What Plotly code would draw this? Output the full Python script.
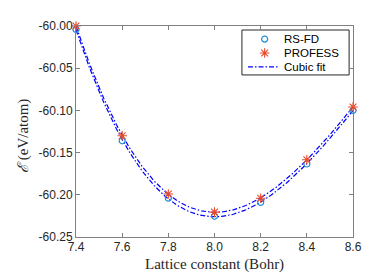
import numpy as np
import plotly.graph_objects as go

lattice = [7.4, 7.6, 7.8, 8.0, 8.2, 8.4, 8.6]
rsfd = [-60.004, -60.136, -60.204, -60.2255, -60.209, -60.1635, -60.100]
profess = [-60.000, -60.130, -60.199, -60.2205, -60.204, -60.1585, -60.096]
xticks = [7.4, 7.6, 7.8, 8.0, 8.2, 8.4, 8.6]
yticks = [-60.25, -60.20, -60.15, -60.10, -60.05, -60.00]
legend_names = ["RS-FD", "PROFESS", "Cubic fit"]

BLUE_LINE = "#0000FF"
C_RS = "#1f8fd8"
C_PR = "#E8482A"
DASH = "5px,2px,1.5px,2px"

xf = np.linspace(7.4, 8.6, 200)
fit_rs = np.polyval(np.polyfit(lattice, rsfd, 3), xf)
fit_pr = np.polyval(np.polyfit(lattice, profess, 3), xf)

fig = go.Figure()
fig.add_trace(go.Scatter(x=xf, y=fit_rs, mode="lines", name="Cubic fit",
                         line=dict(color=BLUE_LINE, width=1.2, dash=DASH), showlegend=False))
fig.add_trace(go.Scatter(x=xf, y=fit_pr, mode="lines", name="Cubic fit",
                         line=dict(color=BLUE_LINE, width=1.2, dash=DASH), showlegend=False))
fig.add_trace(go.Scatter(x=lattice, y=rsfd, mode="markers", name="RS-FD", cliponaxis=False, showlegend=False,
                         marker=dict(symbol="circle-open", size=6, color=C_RS, line=dict(width=1.2))))
fig.add_trace(go.Scatter(x=lattice, y=profess, mode="markers", name="PROFESS", cliponaxis=False, showlegend=False,
                         marker=dict(symbol="asterisk-open", size=8, color=C_PR, line=dict(width=1.1))))

# manual compact legend (overlay axes in [0,1] matching the plot area)
lx0, lx1, ly0, ly1 = 0.599, 0.986, 0.768, 0.981
rows = [0.938, 0.872, 0.806]
mx = 0.681
fig.add_shape(type="rect", xref="paper", yref="paper", x0=lx0, x1=lx1, y0=ly0, y1=ly1,
              line=dict(color="#262626", width=1), fillcolor="white", layer="below")
fig.add_trace(go.Scatter(x=[mx], y=[rows[0]], xaxis="x2", yaxis="y2", mode="markers", showlegend=False,
                         marker=dict(symbol="circle-open", size=6, color=C_RS, line=dict(width=1.2))))
fig.add_trace(go.Scatter(x=[mx], y=[rows[1]], xaxis="x2", yaxis="y2", mode="markers", showlegend=False,
                         marker=dict(symbol="asterisk-open", size=8, color=C_PR, line=dict(width=1.1))))
fig.add_trace(go.Scatter(x=[0.621, 0.735], y=[rows[2], rows[2]], xaxis="x2", yaxis="y2", mode="lines",
                         showlegend=False, line=dict(color=BLUE_LINE, width=1.2, dash=DASH)))
for name, ry in zip(legend_names, rows):
    fig.add_annotation(x=0.744, y=ry, xref="paper", yref="paper", text=name, showarrow=False,
                       xanchor="left", yanchor="middle",
                       font=dict(family="Liberation Sans, Arial", size=11.5, color="black"))

# axis titles
fig.add_annotation(x=0.5, y=-0.128, xref="paper", yref="paper", text="Lattice constant (Bohr)",
                   showarrow=False, xanchor="center", yanchor="middle",
                   font=dict(family="Liberation Serif", size=15, color="#262626"))
fig.add_annotation(x=-0.191, y=0.479, xref="paper", yref="paper", textangle=-90,
                   text="<span style='font-family:DejaVu Serif;font-style:italic'>ℰ</span> (eV/atom)",
                   showarrow=False, xanchor="center", yanchor="middle",
                   font=dict(family="Liberation Serif", size=15, color="#262626"))

axis_common = dict(showgrid=False, zeroline=False, showline=True, linecolor="#808080", linewidth=1,
                   mirror="ticks", ticks="inside", ticklen=4, tickcolor="#808080",
                   tickfont=dict(family="Liberation Sans, Arial", size=12, color="#262626"))

fig.update_xaxes(range=[7.4, 8.6], tickvals=xticks, ticktext=[f"{v:.1f}" for v in xticks],
                 ticklabelstandoff=-1, **axis_common)
fig.update_yaxes(range=[-60.25, -60.0], tickvals=yticks, ticktext=[f"{v:.2f}" for v in yticks],
                 **axis_common)

fig.update_layout(
    width=374, height=280,
    margin=dict(l=68, r=29, t=18, b=51),
    paper_bgcolor="white", plot_bgcolor="white",
    showlegend=False,
    xaxis2=dict(overlaying="x", range=[0, 1], visible=False, fixedrange=True),
    yaxis2=dict(overlaying="y", range=[0, 1], visible=False, fixedrange=True),
)

fig.write_html("out.html")
